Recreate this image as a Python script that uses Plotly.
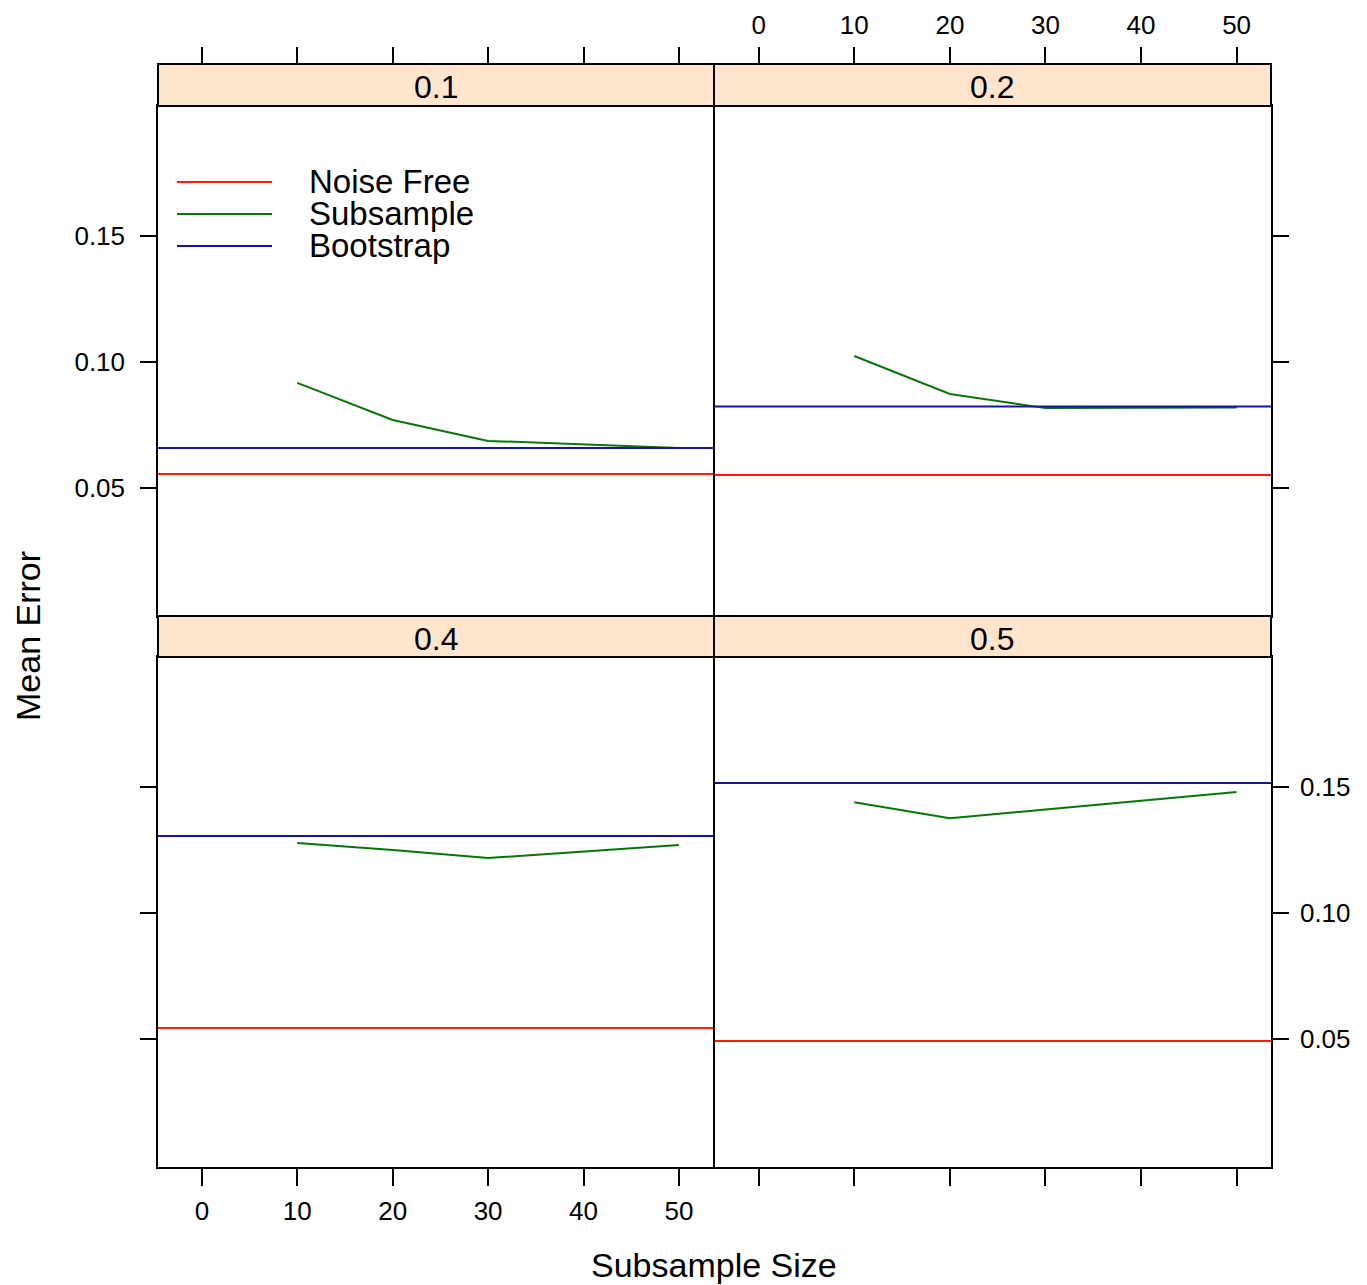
import plotly.graph_objects as go

# ---------------- data ----------------
panels = ["0.1", "0.2", "0.4", "0.5"]
subsample_sizes = [10, 20, 30, 50]
noise_free = [0.0556, 0.0552, 0.0544, 0.0492]
bootstrap = [0.0659, 0.0823, 0.1306, 0.1516]
subsample = [
    [0.0917, 0.0770, 0.0687, 0.0659],
    [0.1024, 0.0873, 0.0817, 0.0819],
    [0.1278, 0.1250, 0.1218, 0.1270],
    [0.1440, 0.1376, 0.1411, 0.1480],
]
series_names = ["Noise Free", "Subsample", "Bootstrap"]
series_colors = ["#FF1A0A", "#0A730A", "#1515A0"]
x_ticks = [0, 10, 20, 30, 40, 50]
y_ticks = [0.05, 0.10, 0.15]

W, H = 1367, 1285
FONT = "Liberation Sans, Arial, Helvetica, sans-serif"


def px(x):
    return x / W


def py(y):
    return 1 - y / H


# panel geometry (pixels)
col_x = [(158, 713.25), (714.75, 1271)]
strip_col_x = [(158, 714), (714, 1271)]
row_y = [(106, 616), (657, 1167)]          # plot area
strip_y = [(64, 106), (616, 657)]          # strip area
x_range = [-4.6, 53.6]
y_range = [-0.0008, 0.2016]

fig = go.Figure()

for i, name in enumerate(panels):
    ax = "" if i == 0 else str(i + 1)
    fig.add_trace(go.Scatter(
        x=subsample_sizes, y=subsample[i], mode="lines",
        line=dict(color=series_colors[1], width=2),
        xaxis="x" + ax, yaxis="y" + ax, showlegend=False, hoverinfo="skip"))
    # full-width horizontal reference lines
    for val, col in ((noise_free[i], series_colors[0]), (bootstrap[i], series_colors[2])):
        fig.add_shape(type="line", xref="x" + ax + " domain", yref="y" + ax,
                      x0=0, x1=1, y0=val, y1=val,
                      line=dict(color=col, width=2), layer="above")

# dummy traces for the top tick axes (above strips)
fig.add_trace(go.Scatter(x=[], y=[], xaxis="x5", yaxis="y", showlegend=False, hoverinfo="skip"))
fig.add_trace(go.Scatter(x=[], y=[], xaxis="x6", yaxis="y2", showlegend=False, hoverinfo="skip"))

tickfont = dict(family=FONT, size=26, color="black")
common = dict(showgrid=False, zeroline=False, showline=True, mirror=True,
              linecolor="black", linewidth=1.5, tickcolor="black", tickwidth=2,
              tickfont=tickfont)

layout = dict(width=W, height=H, autosize=False,
              margin=dict(l=0, r=0, t=0, b=0),
              paper_bgcolor="white", plot_bgcolor="white",
              font=dict(family=FONT, color="black"), showlegend=False)

for i in range(4):
    r, c = divmod(i, 2)
    ax = "" if i == 0 else str(i + 1)
    xd = [px(col_x[c][0]), px(col_x[c][1])]
    yd = [py(row_y[r][1]), py(row_y[r][0])]
    xa = dict(common, domain=xd, range=x_range, anchor="y" + ax,
              tickvals=x_ticks, side="bottom")
    if r == 1:
        xa.update(ticks="outside", ticklen=17, showticklabels=(c == 0),
                  ticklabelstandoff=3)
    else:
        xa.update(ticks="", showticklabels=False)
    ya = dict(common, domain=yd, range=y_range, anchor="x" + ax,
              tickvals=y_ticks, tickformat=".2f", ticks="outside", ticklen=16,
              ticklabelstandoff=10)
    if c == 0:
        ya.update(side="left", showticklabels=(r == 0))
    else:
        ya.update(side="right", showticklabels=(r == 1), ticklabelstandoff=6)
    layout["xaxis" + ax] = xa
    layout["yaxis" + ax] = ya

for k, (base, c) in enumerate((("x", 0), ("x2", 1))):
    layout["xaxis" + str(5 + k)] = dict(
        showgrid=False, zeroline=False, showline=False,
        overlaying=base, anchor="free", position=py(strip_y[0][0]),
        side="top", range=x_range, tickvals=x_ticks,
        ticks="outside", ticklen=17, tickwidth=2, tickcolor="black",
        tickfont=tickfont, showticklabels=(c == 1), ticklabelstandoff=3,
        domain=[px(col_x[c][0]), px(col_x[c][1])])

fig.update_layout(**layout)

# strips
for i, name in enumerate(panels):
    r, c = divmod(i, 2)
    fig.add_shape(type="rect", xref="paper", yref="paper",
                  x0=px(strip_col_x[c][0]), x1=px(strip_col_x[c][1]),
                  y0=py(strip_y[r][1]), y1=py(strip_y[r][0]),
                  fillcolor="#FFE5CC", line=dict(color="black", width=2), layer="above")
    fig.add_annotation(x=(px(strip_col_x[c][0]) + px(strip_col_x[c][1])) / 2,
                       y=py((strip_y[r][0] + strip_y[r][1]) / 2 + 2),
                       xref="paper", yref="paper", text=name, showarrow=False,
                       font=dict(family=FONT, size=32, color="black"),
                       xanchor="center", yanchor="middle")

# legend (key inside top-left panel)
leg_y = [182, 214, 246]
for nm, col, yy in zip(series_names, series_colors, leg_y):
    fig.add_shape(type="line", xref="paper", yref="paper",
                  x0=px(177), x1=px(272), y0=py(yy), y1=py(yy),
                  line=dict(color=col, width=2))
    fig.add_annotation(x=px(307), y=py(yy), xref="paper", yref="paper",
                       text=nm, showarrow=False, xanchor="left", yanchor="middle",
                       font=dict(family=FONT, size=33, color="black"))

# axis titles
fig.add_annotation(x=px(28), y=py(636), xref="paper", yref="paper",
                   text="Mean Error", textangle=-90, showarrow=False,
                   xanchor="center", yanchor="middle",
                   font=dict(family=FONT, size=34, color="black"))
fig.add_annotation(x=px(714), y=py(1265), xref="paper", yref="paper",
                   text="Subsample Size", showarrow=False,
                   xanchor="center", yanchor="middle",
                   font=dict(family=FONT, size=34, color="black"))

fig.write_html("out.html")
